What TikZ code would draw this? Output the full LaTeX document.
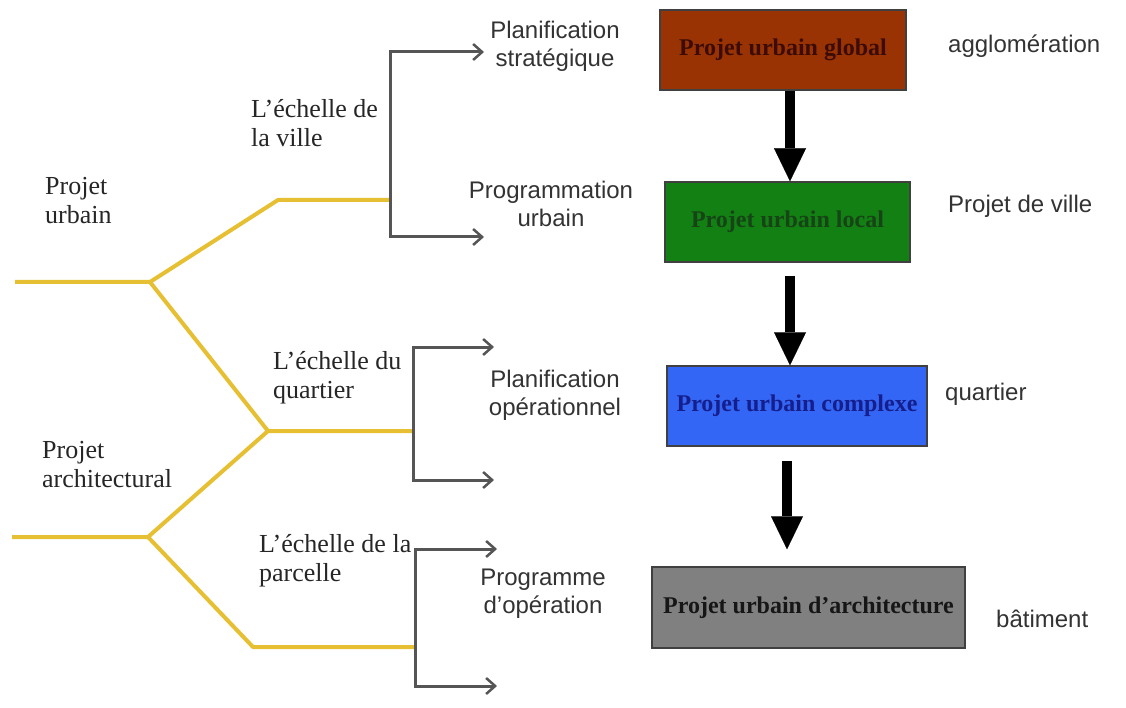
\documentclass[tikz,border=0pt]{standalone}
\usepackage{fontspec}
\setmainfont{Liberation Serif}
\newfontfamily\labelsans{Liberation Sans}
\usetikzlibrary{arrows.meta}

\definecolor{branch}{RGB}{230,192,50}
\definecolor{bracket}{RGB}{85,85,85}
\definecolor{boxbrown}{RGB}{153,51,4}
\definecolor{boxgreen}{RGB}{18,128,18}
\definecolor{boxblue}{RGB}{52,102,245}
\definecolor{boxgray}{RGB}{128,128,128}
\definecolor{txtbrown}{RGB}{60,12,4}
\definecolor{txtgreen}{RGB}{22,68,22}
\definecolor{txtblue}{RGB}{20,30,140}
\definecolor{txtgray}{RGB}{22,22,22}

\tikzset{
  % multi-line nodes: the base anchor sits on the last line's baseline
  serifnote/.style={font=\fontsize{26}{29}\selectfont, text=black!85,
    inner sep=0pt, align=left, anchor=base west},
  sansnote/.style={font=\labelsans\fontsize{24}{28}\selectfont, text=black!80,
    inner sep=0pt, align=center, anchor=base},
  scalenote/.style={font=\labelsans\fontsize{24}{28}\selectfont, text=black!80,
    inner sep=0pt, anchor=base west},
  levelbox/.style={draw=black!75, line width=1.5pt, minimum height=80pt,
    inner sep=0pt, font=\bfseries\fontsize{24}{28}\selectfont},
  branchline/.style={draw=branch, line width=4pt, line join=round},
  bracketline/.style={draw=bracket, line width=3pt,
    -{Straight Barb[length=9pt,width=16pt,line width=2.5pt]}},
  bigarrow/.style={draw=black, line width=10pt,
    -{Triangle[length=33pt,width=32pt,line width=0.1pt]}}
}

\begin{document}
\begin{tikzpicture}[x=1pt,y=-1pt]
  \fill[white] (0,0) rectangle (1126,708);
  \useasboundingbox (0,0) rectangle (1126,708);

  % branching tree
  \coordinate (r1) at (15,282);
  \coordinate (f1) at (150,282);
  \coordinate (u1) at (278,200);
  \coordinate (j1) at (390,200);
  \coordinate (m)  at (268,431);
  \coordinate (j2) at (413,431);
  \coordinate (r2) at (12,537);
  \coordinate (f2) at (148,537);
  \coordinate (d2) at (253,647);
  \coordinate (j3) at (415,647);

  \draw[branchline] (r1) -- (f1) -- (u1) -- (j1);
  \draw[branchline] (f1) -- (m) -- (j2);
  \draw[branchline] (r2) -- (f2) -- (m);
  \draw[branchline] (f2) -- (d2) -- (j3);

  % bracket arrows
  \coordinate (a1) at (484,52);
  \coordinate (b1) at (484,237);
  \coordinate (a2) at (494,347);
  \coordinate (b2) at (494,480);
  \coordinate (a3) at (497,549);
  \coordinate (b3) at (497,686);

  \draw[bracketline] (j1) |- (a1);
  \draw[bracketline] (j1) |- (b1);
  \draw[bracketline] (j2) |- (a2);
  \draw[bracketline] (j2) |- (b2);
  \draw[bracketline] (j3) |- (a3);
  \draw[bracketline] (j3) |- (b3);

  % left labels
  \node[serifnote] (pu) at (45,224) {Projet\\urbain};
  \node[serifnote] (pa) at (42,487) {Projet\\architectural};
  \node[serifnote] (ev) at (251,147) {L’échelle de\\la ville};
  \node[serifnote] (eq) at (273,398) {L’échelle du\\quartier};
  \node[serifnote] (ep) at (259,581) {L’échelle de la\\parcelle};

  % planning labels
  \node[sansnote] (ps) at (555,67) {Planification\\stratégique};
  \node[sansnote] (pg) at (551,227) {Programmation\\urbain};
  \node[sansnote] (po) at (555,415) {Planification\\opérationnel};
  \node[sansnote] (pr) at (543,613) {Programme\\d’opération};

  % project levels
  \node[levelbox, fill=boxbrown, text=txtbrown, minimum width=246pt]
    (g) at (783,50) {Projet urbain global};
  \node[levelbox, fill=boxgreen, text=txtgreen, minimum width=245pt]
    (l) at (787.5,222) {Projet urbain local};
  \node[levelbox, fill=boxblue, text=txtblue, minimum width=260pt]
    (c) at (797,406) {Projet urbain complexe};
  \node[levelbox, fill=boxgray, text=txtgray, minimum width=313pt, minimum height=81pt]
    (a) at (808.5,607.5) {Projet urbain d’architecture};

  % scale labels
  \node[scalenote] (sa) at (948,53) {agglomération};
  \node[scalenote] (sv) at (948,213) {Projet de ville};
  \node[scalenote] (sq) at (945,400) {quartier};
  \node[scalenote] (sb) at (996,627) {bâtiment};

  % descending arrows
  \coordinate (ax1) at (790,0);
  \coordinate (ax2) at (787,0);
  \draw[bigarrow] (g.south -| ax1) -- (l.north -| ax1);
  \draw[bigarrow, shorten <=13pt] (l.south -| ax1) -- (c.north -| ax1);
  \draw[bigarrow, shorten <=14pt, shorten >=17pt] (c.south -| ax2) -- (a.north -| ax2);
\end{tikzpicture}
\end{document}
